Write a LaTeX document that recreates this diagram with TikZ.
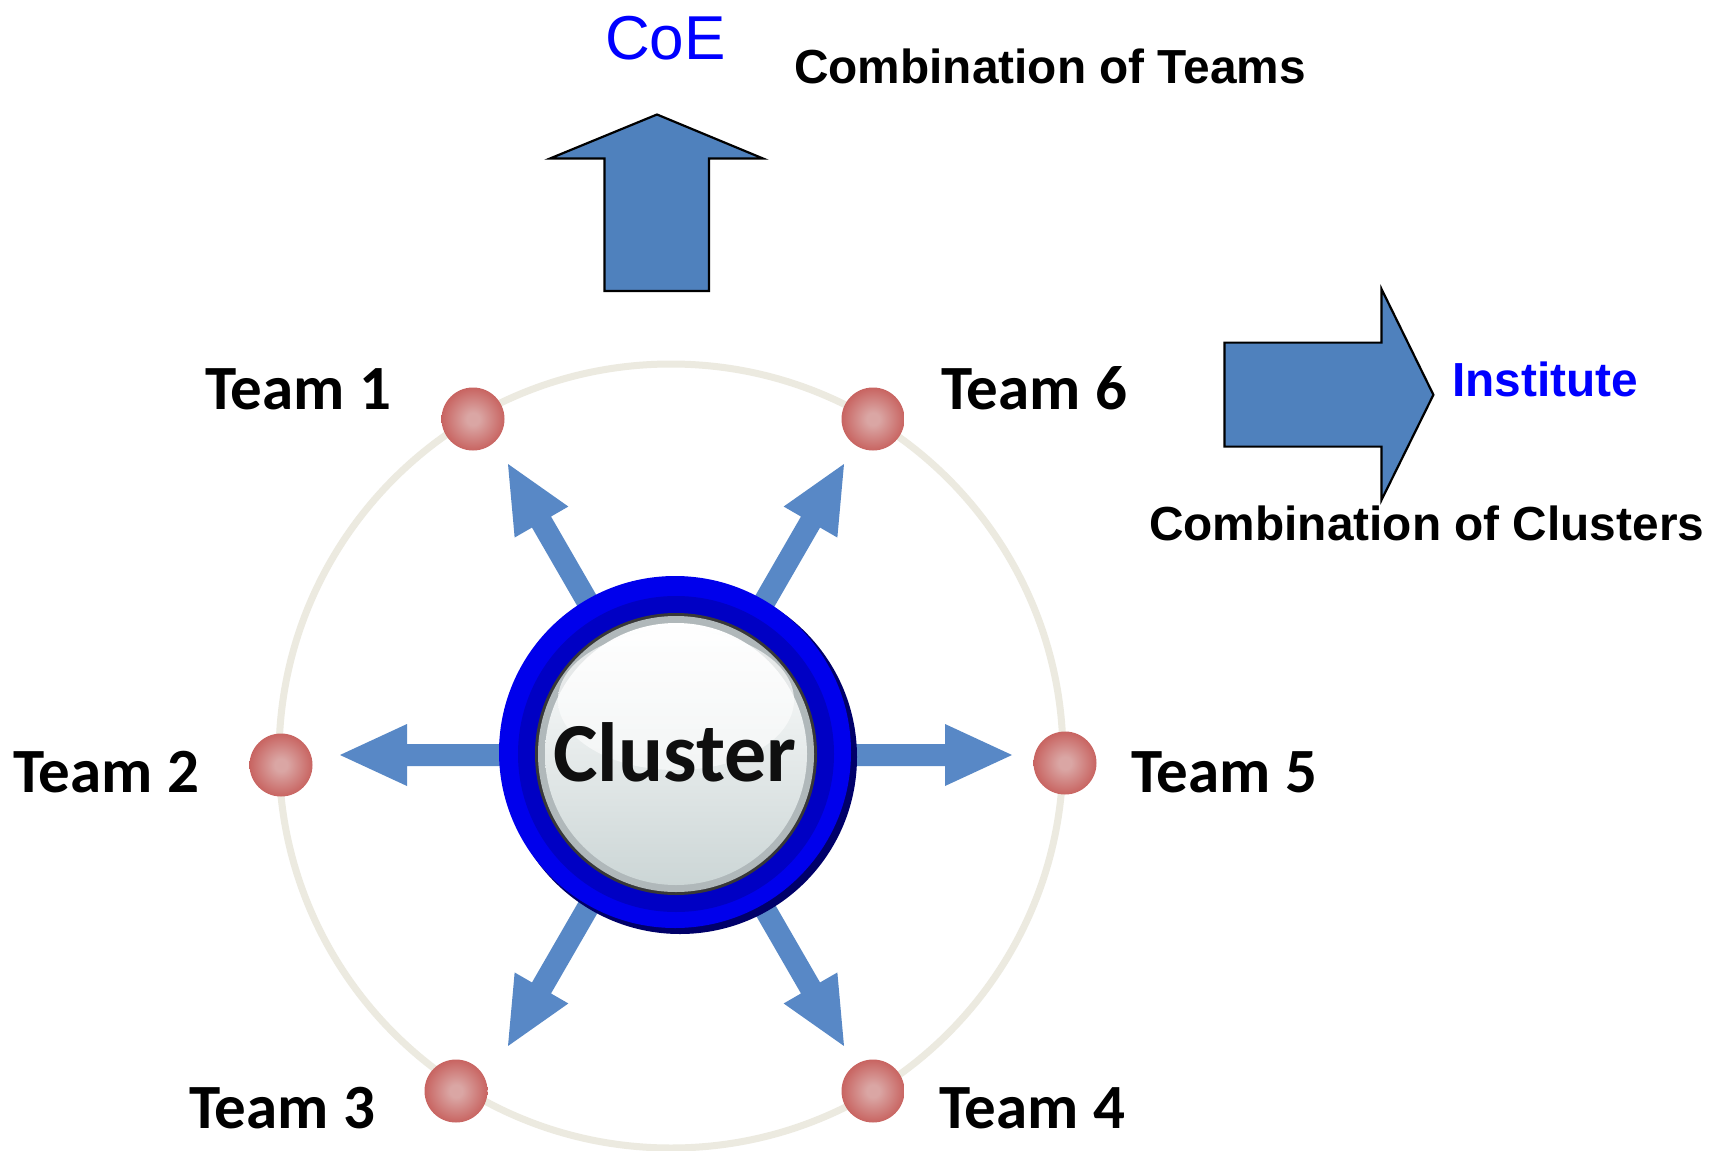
\documentclass[tikz,border=0pt]{standalone}
\usepackage{fontspec}
\setmainfont{Liberation Sans}
\newfontfamily\calfont{Carlito}
\newfontfamily\arialfont{Liberation Sans}
\definecolor{arrowblue}{RGB}{79,129,189}
\definecolor{spokeblue}{RGB}{88,136,198}
\definecolor{ringgrey}{RGB}{236,234,224}
\definecolor{dotin}{RGB}{218,166,164}
\definecolor{dotmid}{RGB}{200,100,97}
\definecolor{dotout}{RGB}{186,72,70}
\definecolor{coeblue}{RGB}{0,0,255}
\definecolor{ringblue}{RGB}{0,0,236}
\definecolor{ringdark}{RGB}{0,0,196}
\definecolor{ringnavy}{RGB}{0,0,105}
\definecolor{rimgrey}{RGB}{176,184,186}
\definecolor{discbot}{RGB}{204,214,214}
\definecolor{textblack}{RGB}{15,15,15}
\pgfdeclareradialshading{dotshade}{\pgfpoint{0bp}{0bp}}{color(0bp)=(dotin); color(5bp)=(dotin); color(25bp)=(dotmid); color(35bp)=(dotout); color(50bp)=(dotout)}
\begin{document}
\begin{tikzpicture}[x=1pt,y=-1pt,
  teamlabel/.style={anchor=base west, inner sep=0pt, text=black,
    font={\calfont\bfseries\fontsize{63}{72}\selectfont}},
  teamdot/.style={circle, minimum size=63pt, inner sep=0pt, shading=dotshade},
  spokearrow/.style={fill=spokeblue},
  blockarrow/.style={fill=arrowblue, draw=black, line width=2.2pt, line join=miter},
  boldlabel/.style={anchor=base west, inner sep=0pt,
    font={\arialfont\bfseries\fontsize{47.8}{56}\selectfont}}]

\fill[white] (0,0) rectangle (1733,1151);
\useasboundingbox (0,0) rectangle (1733,1151);

% orbit
\draw[ringgrey, line width=7pt] (671,756) circle[radius=392pt];

% team dots
\node[teamdot] (t1) at (473,419) {};
\node[teamdot] (t6) at (873,419) {};
\node[teamdot] (t2) at (281,765) {};
\node[teamdot] (t5) at (1065,763) {};
\node[teamdot] (t3) at (456,1091) {};
\node[teamdot] (t4) at (873,1091) {};

% spokes
\foreach \ang in {0,60,120,180,240,300}{
  \begin{scope}[shift={(676,755)}, rotate=\ang]
    \fill[spokearrow] (140,-11) -- (269,-11) -- (269,-31) -- (336,0)
      -- (269,31) -- (269,11) -- (140,11) -- cycle;
  \end{scope}
}

% cluster
\fill[ringnavy] (680,757) circle[radius=177pt];
\fill[ringblue] (675,752) circle[radius=176pt];
\fill[ringdark] (676,754) circle[radius=158pt];
\fill[black!78] (676,754) circle[radius=141pt];
\fill[rimgrey] (676,754) circle[radius=138pt];
\shade[top color=white, bottom color=discbot] (676,754) circle[radius=131pt];
\shade[top color=white, bottom color=white!90!discbot, opacity=0.7] (676,700) ellipse[x radius=118pt, y radius=70pt];
\node[inner sep=0pt, anchor=base, text=textblack,
  font={\calfont\bfseries\fontsize{84}{96}\selectfont}] (cluster) at (675,781) {Cluster};

% team labels
\node[teamlabel] (l1) at (205,409) {Team 1};
\node[teamlabel] (l6) at (941,409) {Team 6};
\node[teamlabel] (l2) at (13,792) {Team 2};
\node[teamlabel] (l5) at (1131,792) {Team 5};
\node[teamlabel] (l3) at (189,1128) {Team 3};
\node[teamlabel] (l4) at (939,1128) {Team 4};

% up arrow
\draw[blockarrow] (604.5,291) -- (604.5,158.5) -- (550,158.5) -- (657,114.5)
  -- (763,158.5) -- (709,158.5) -- (709,291) -- cycle;
% right arrow
\draw[blockarrow] (1224.5,342.6) -- (1381.5,342.6) -- (1381.5,289) -- (1433.4,394.8)
  -- (1381.5,500) -- (1381.5,446.6) -- (1224.5,446.6) -- cycle;

% texts
\node[anchor=base west, inner sep=0pt, text=coeblue,
  font={\arialfont\fontsize{62}{70}\selectfont}] (coe) at (605,59) {CoE};
\node[boldlabel] (cteams) at (794,83) {Combination of Teams};
\node[boldlabel, text=coeblue] (inst) at (1452,396) {Institute};
\node[boldlabel] (cclus) at (1149,540) {Combination of Clusters};
\end{tikzpicture}
\end{document}
